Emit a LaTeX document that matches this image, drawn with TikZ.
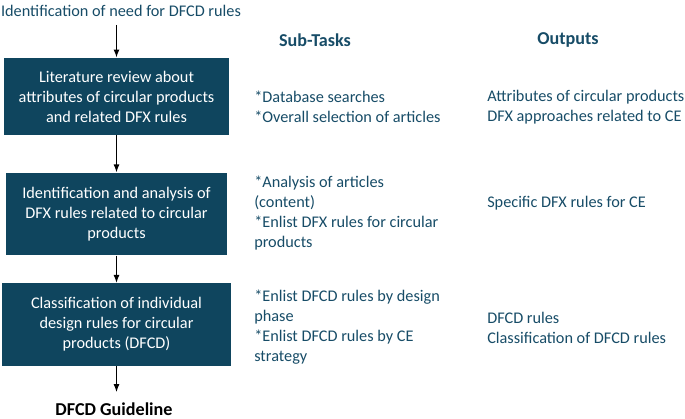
\documentclass[tikz,border=0pt]{standalone}
\usepackage{fontspec}
\setmainfont{Carlito}
\usetikzlibrary{arrows.meta}
\definecolor{boxblue}{HTML}{0F455E}
\definecolor{txtblue}{HTML}{174C67}
\tikzset{
  stage/.style={fill=boxblue, text=white, align=center, inner sep=0pt,
    minimum width=168pt, minimum height=61pt},
  note/.style={text=txtblue, align=left, anchor=west, inner sep=0pt},
  head/.style={text=txtblue, font=\fontsize{13.6}{16}\selectfont\bfseries, inner sep=0pt},
  flow/.style={-{Latex[length=6pt,width=4.5pt]}, line width=0.9pt}
}
\begin{document}
\begin{tikzpicture}[x=0.75pt, y=-0.75pt, font=\fontsize{12.2}{15}\selectfont]
  \useasboundingbox (0,0) rectangle (685,418);
  % stages on the left
  \node[text=txtblue, inner sep=0pt] (need) at (121,11) {Identification of need for DFCD rules};
  \node[stage, minimum width=169pt, minimum height=58pt] (s1) at (116.5,96.5)
    {Literature review about\\attributes of circular products\\and related DFX rules};
  \node[stage, minimum width=166pt, minimum height=62pt] (s2) at (116.5,214)
    {Identification and analysis of\\DFX rules related to circular\\products};
  \node[stage, minimum width=172pt, minimum height=62pt] (s3) at (116.5,324.5)
    {Classification of individual\\design rules for circular\\products (DFCD)};
  \node[head, text=black] (guide) at (114,409) {DFCD Guideline};
  \draw[flow] (need.south -| s1.north) ++(0,8) -- (s1.north);
  \draw[flow] (s1) -- (s2);
  \draw[flow] (s2) -- (s3);
  \draw[flow] (s3.south) -- ++(0,26) coordinate (end);
  % columns
  \node[head] (subt) at (315,40) {Sub-Tasks};
  \node[head] (outp) at (568,40) {Outputs};
  \node[note] (t1) at (254,107) {*Database searches\\*Overall selection of articles};
  \node[note] (t2) at (254,213) {*Analysis of articles\\(content)\\*Enlist DFX rules for circular\\products};
  \node[note] (t3) at (254,327.5) {*Enlist DFCD rules by design\\phase\\*Enlist DFCD rules by CE\\strategy};
  \node[note] (o1) at (487,107) {Attributes of circular products\\DFX approaches related to CE};
  \node[note] (o2) at (487,203) {Specific DFX rules for CE};
  \node[note] (o3) at (487,327.5) {DFCD rules\\Classification of DFCD rules};
\end{tikzpicture}
\end{document}
